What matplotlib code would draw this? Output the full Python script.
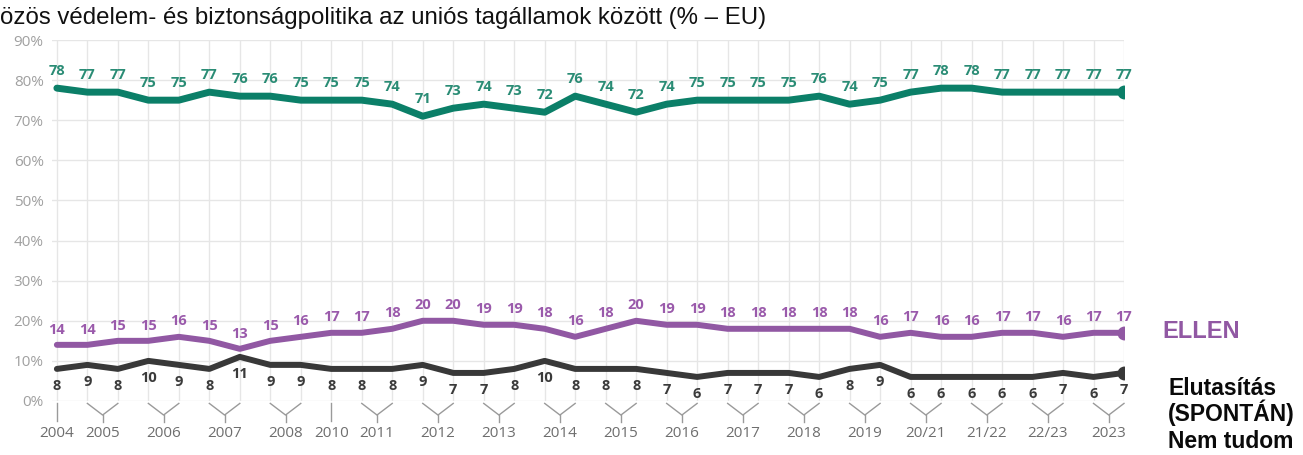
import matplotlib
matplotlib.use("Agg")
import matplotlib.pyplot as plt

# Survey waves (one point per wave)
support = [78, 77, 77, 75, 75, 77, 76, 76, 75, 75, 75, 74, 71, 73, 74, 73, 72, 76,
           74, 72, 74, 75, 75, 75, 75, 76, 74, 75, 77, 78, 78, 77, 77, 77, 77, 77]
against = [14, 14, 15, 15, 16, 15, 13, 15, 16, 17, 17, 18, 20, 20, 19, 19, 18, 16,
           18, 20, 19, 19, 18, 18, 18, 18, 18, 16, 17, 16, 16, 17, 17, 16, 17, 17]
dont_know = [8, 9, 8, 10, 9, 8, 11, 9, 9, 8, 8, 8, 9, 7, 7, 8, 10, 8,
             8, 8, 7, 6, 7, 7, 7, 6, 8, 9, 6, 6, 6, 6, 6, 7, 6, 7]

# Year labels and how many waves each one covers
year_labels = ["2004", "2005", "2006", "2007", "2008", "2010", "2011", "2012", "2013",
               "2014", "2015", "2016", "2017", "2018", "2019", "20/21", "21/22",
               "22/23", "2023"]
waves_per_year = [1, 2, 2, 2, 2, 1, 2, 2, 2, 2, 2, 2, 2, 2, 2, 2, 2, 2, 2]

y_ticks = [0, 10, 20, 30, 40, 50, 60, 70, 80, 90]

title = "özös védelem- és biztonságpolitika az uniós tagállamok között (% – EU)"
side_label_against = "ELLEN"
side_label_other = ["Elutasítás", "(SPONTÁN)", "Nem tudom"]

GREEN = "#0b7f68"
GREEN_TXT = "#2a8c75"
PURPLE = "#9158a3"
PURPLE_TXT = "#9a5aab"
DARK = "#383838"
DARK_TXT = "#3a3a3a"

W, H = 1303, 455
fig = plt.figure(figsize=(W / 100, H / 100), dpi=100)
left_px, right_px, top_px, bot_px = 52, 1124, 40, 401
ax = fig.add_axes([left_px / W, 1 - bot_px / H, (right_px - left_px) / W, (bot_px - top_px) / H])

n = len(support)
x = list(range(n))
ax.set_xlim(-0.16, n - 1)
ax.set_ylim(0, 90)

for s in ax.spines.values():
    s.set_visible(False)
ax.set_xticks(x)
ax.set_xticklabels([])
ax.tick_params(axis="x", length=0)
ax.set_yticks(y_ticks)
ax.set_yticklabels([f"{v}%" for v in y_ticks], color="#a0a0a0", fontsize=11,
                   family="Open Sans")
ax.tick_params(axis="y", length=0, pad=6)
ax.grid(True, color="#e6e6e6", lw=1)
ax.set_axisbelow(True)

lab_font = dict(family="Open Sans", fontweight="bold", fontsize=10.5, ha="center")

line_kw = dict(solid_capstyle="round", solid_joinstyle="round", zorder=3)
ax.plot(x, support, color=GREEN, lw=5, **line_kw)
ax.plot(x[-1], support[-1], "o", color=GREEN, ms=9, zorder=4)
ax.plot(x, against, color=PURPLE, lw=4.3, **line_kw)
ax.plot(x[-1], against[-1], "o", color=PURPLE, ms=9, zorder=4)
ax.plot(x, dont_know, color=DARK, lw=4.3, **line_kw)
ax.plot(x[-1], dont_know[-1], "o", color=DARK, ms=9, zorder=4)

for xi, v in zip(x, support):
    ax.annotate(str(v), (xi, v), xytext=(0, 7), textcoords="offset points",
                va="bottom", color=GREEN_TXT, **lab_font)
for xi, v in zip(x, against):
    ax.annotate(str(v), (xi, v), xytext=(0, 6), textcoords="offset points",
                va="bottom", color=PURPLE_TXT, **lab_font)
for xi, v in zip(x, dont_know):
    ax.annotate(str(v), (xi, v), xytext=(0, -7), textcoords="offset points",
                va="top", color=DARK_TXT, **lab_font)

# Year brackets under the axis
br = dict(color="#9a9a9a", lw=1, clip_on=False)
i = 0
for lab, k in zip(year_labels, waves_per_year):
    if k == 1:
        ax.plot([i, i], [-0.4, -4.9], **br)
        cx = i
    else:
        a, b = i, i + k - 1
        cx = (a + b) / 2
        ax.plot([a, cx, b], [-0.6, -3.5, -0.6], **br)
        ax.plot([cx, cx], [-3.5, -5.2], **br)
    ax.text(cx, -8.2, lab, ha="center", va="center", color="#6e6e6e", fontsize=11,
            family="Open Sans", clip_on=False)
    i += k

fig.text(0.0, 1 - 18 / H, title, ha="left", va="center", fontsize=17.3,
         family="Liberation Sans", color="#111111")

fig.text(1162 / W, 1 - 331 / H, side_label_against, ha="left", va="center",
         fontsize=17, family="Liberation Sans", fontweight="bold", color=PURPLE)
for k, line in enumerate(side_label_other):
    fig.text(1168 / W, 1 - (395 + 26.5 * k) / H, line, ha="left", va="baseline",
             fontsize=16.5, family="Liberation Sans", fontweight="bold", color="#0a0a0a")

fig.savefig("out.png", dpi=100)
